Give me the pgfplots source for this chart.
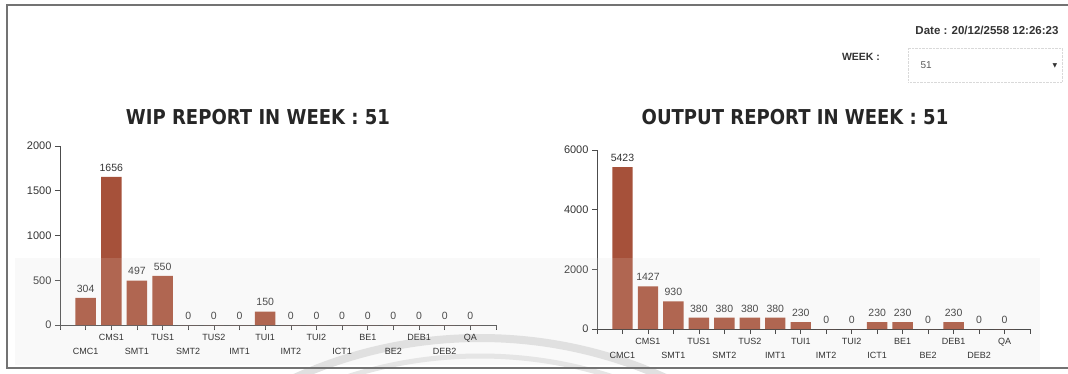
\documentclass[border=0pt]{standalone}
\usepackage{pgfplots}
\pgfplotsset{compat=1.18}
\usepackage{fontspec}
\setmainfont{Liberation Sans}
\newfontfamily\titlefont{DejaVu Sans}[FakeStretch=0.88]
\newfontfamily\symfont{DejaVu Sans}
\definecolor{barc}{HTML}{A6513A}
\definecolor{txt}{HTML}{333333}

\pgfplotsset{
 rep/.style={
  scale only axis, height=179pt, xmin=0, xmax=17, ymin=0,
  axis x line*=bottom, axis y line*=left,
  axis line style={-, black!70, line width=0.7pt},
  tick style={black!70, line width=0.6pt},
  tick align=outside, major tick length=5pt,
  xtick={2,4,...,16},
  xticklabels={CMS1,TUS1,TUS2,TUI1,TUI2,BE1,DEB1,QA},
  extra x ticks={1,3,...,15},
  extra x tick labels={CMC1,SMT1,SMT2,IMT1,IMT2,ICT1,BE2,DEB2},
  extra x tick style={xticklabel style={yshift=-14pt}},
  xticklabel style={font=\fontsize{9}{10}\selectfont, text=txt, yshift=-1pt},
  yticklabel style={font=\fontsize{11}{12}\selectfont, text=txt},
  /pgf/number format/assume math mode=true,
  /pgf/number format/1000 sep={},
  ybar, bar width=0.8,
  nodes near coords,
  every node near coord/.append style={font=\fontsize{10.5}{11}\selectfont, text=txt, yshift=2pt},
  clip=false,
 }
}

\pgfplotstableread{
x v
1 304
2 1656
3 497
4 550
5 0
6 0
7 0
8 150
9 0
10 0
11 0
12 0
13 0
14 0
15 0
16 0
}\wipdata

\pgfplotstableread{
x v
1 5423
2 1427
3 930
4 380
5 380
6 380
7 380
8 230
9 0
10 0
11 230
12 230
13 0
14 230
15 0
16 0
}\outdata

\begin{document}
\begin{tikzpicture}[x=1pt,y=1pt]
\useasboundingbox (0,0) rectangle (1068,373);
% faint lower band
\fill[black!2.5] (15,8) rectangle (1040,115);
% watermark arcs
\begin{scope}
\clip (0,0) rectangle (1068,373);
\draw[black!12, line width=8pt] (480,-415) circle (450);
\draw[black!10, line width=5pt] (480,-415) circle (432);
\end{scope}
% frame
\draw[black!55, line width=1.3pt] (1068,368) -- (7,368) -- (7,5) -- (1068,5);

% header
\node[anchor=east, font=\bfseries\fontsize{11.5}{12}\selectfont, text=txt] at (1062,343) {Date : 20/12/2558 12:26:23};
\node[font=\bfseries\fontsize{10.5}{11}\selectfont, text=txt] at (861,316) {WEEK :};
\draw[black!15, densely dotted] (908,291) rectangle (1062,325);
\node[anchor=west, font=\fontsize{10}{10}\selectfont, text=black!65] at (917,308) {51};
\node[font=\symfont\fontsize{6}{6}\selectfont, text=txt] at (1055,307) {▼};

% titles
\node[font=\titlefont\bfseries\fontsize{20.5}{22}\selectfont, text=black!85] at (258,256) {WIP REPORT IN WEEK : 51};
\node[font=\titlefont\bfseries\fontsize{20.5}{22}\selectfont, text=black!85] at (795,256) {OUTPUT REPORT IN WEEK : 51};

\begin{axis}[rep, at={(60pt,48pt)}, anchor=south west, width=436pt, ymax=2000, ytick={0,500,1000,1500,2000}]
\addplot[fill=barc, draw=none] table[x=x, y=v] {\wipdata};
\draw[black!70, line width=0.6pt] (axis cs:0,0) -- ++(0,-5pt);
\draw[black!70, line width=0.6pt] (axis cs:17,0) -- ++(0,-5pt);
\end{axis}

\begin{axis}[rep, at={(597pt,44pt)}, anchor=south west, width=433pt, ymax=6000, ytick={0,2000,4000,6000}]
\addplot[fill=barc, draw=none] table[x=x, y=v] {\outdata};
\draw[black!70, line width=0.6pt] (axis cs:0,0) -- ++(0,-5pt);
\draw[black!70, line width=0.6pt] (axis cs:17,0) -- ++(0,-5pt);
\end{axis}

% photo glare on lower band
\fill[white, opacity=0.12] (15,44) rectangle (1040,115);
\end{tikzpicture}
\end{document}
